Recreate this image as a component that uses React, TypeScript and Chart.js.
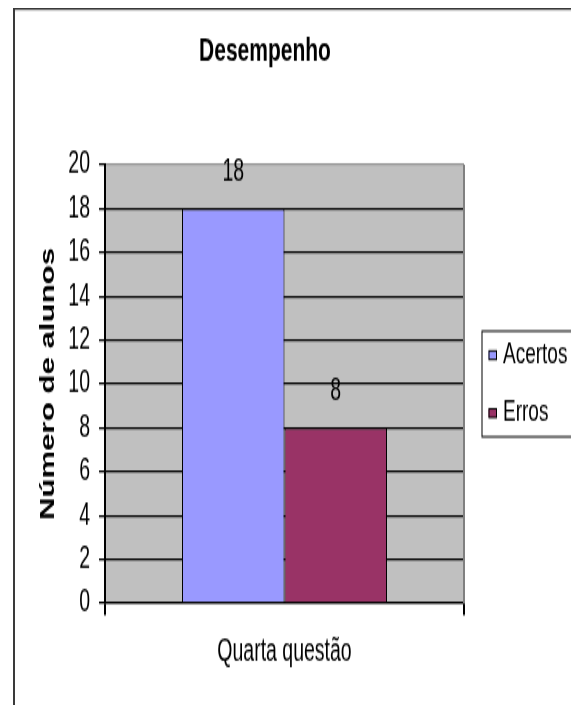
import { useEffect, useRef } from "react";
import { Chart, registerables } from "chart.js";

Chart.register(...registerables);

// Chart data
const categories = ["Quarta questão"];
const seriesNames = ["Acertos", "Erros"];
const acertos = [18];
const erros = [8];
const seriesColors = ["#9999ff", "#993366"];
const yTickValues = [0, 2, 4, 6, 8, 10, 12, 14, 16, 18, 20];
const chartTitle = "Desempenho";
const yAxisTitle = "Número de alunos";

// Drawing surface: the chart is laid out on a short canvas and stretched vertically.
const W = 571;
const H = 436;
const STRETCH = 1.6;
const FONT = "'Liberation Sans', Arial, sans-serif";

const backdrop = {
  id: "backdrop",
  beforeDraw(chart: any) {
    const { ctx, chartArea: a } = chart;
    ctx.save();
    ctx.fillStyle = "#ffffff";
    ctx.fillRect(0, 0, chart.width, chart.height);
    // outer frame (top and left edges)
    ctx.strokeStyle = "#3a3a3a";
    ctx.lineWidth = 2;
    ctx.beginPath();
    ctx.moveTo(6, 0);
    ctx.lineTo(6, chart.height);
    ctx.stroke();
    ctx.lineWidth = 1.2;
    ctx.beginPath();
    ctx.moveTo(5, 0.6);
    ctx.lineTo(chart.width, 0.6);
    ctx.stroke();
    // plot area fill
    ctx.fillStyle = "#c0c0c0";
    ctx.fillRect(a.left, a.top, a.right - a.left, a.bottom - a.top);
    ctx.restore();
  },
};

const plotBorder = {
  id: "plotBorder",
  afterDatasetsDraw(chart: any) {
    const { ctx, chartArea: a } = chart;
    ctx.save();
    ctx.strokeStyle = "#808080";
    ctx.lineWidth = 2;
    ctx.beginPath();
    ctx.moveTo(a.right, a.top);
    ctx.lineTo(a.right, a.bottom);
    ctx.stroke();
    ctx.restore();
  },
};

const valueLabels = {
  id: "valueLabels",
  afterDatasetsDraw(chart: any) {
    const { ctx } = chart;
    ctx.save();
    ctx.fillStyle = "#000000";
    ctx.font = `19.5px ${FONT}`;
    ctx.textAlign = "center";
    ctx.textBaseline = "middle";
    chart.data.datasets.forEach((ds: any, i: number) => {
      const meta = chart.getDatasetMeta(i);
      meta.data.forEach((bar: any, j: number) => {
        ctx.fillText(String(ds.data[j]), bar.x, bar.y - 22.4);
      });
    });
    ctx.restore();
  },
};

const titleText = {
  id: "titleText",
  afterDraw(chart: any) {
    const { ctx } = chart;
    ctx.save();
    ctx.fillStyle = "#000000";
    ctx.font = `bold 21px ${FONT}`;
    ctx.textAlign = "center";
    ctx.textBaseline = "middle";
    ctx.fillText(chartTitle, 257, 27.5);
    ctx.restore();
  },
};

const legendBox = {
  id: "legendBox",
  afterDraw(chart: any) {
    const { ctx, chartArea: a } = chart;
    const cy = (a.top + a.bottom) / 2;
    const x0 = 473.5;
    const x1 = 569;
    const h = 66;
    const top = cy - h / 2;
    ctx.save();
    ctx.strokeStyle = "#000000";
    ctx.lineWidth = 1;
    ctx.strokeRect(x0 + 0.5, top, x1 - x0, h);
    ctx.font = `19px ${FONT}`;
    ctx.textAlign = "left";
    ctx.textBaseline = "middle";
    chart.data.datasets.forEach((ds: any, i: number) => {
      const y = top + 15 + i * 36.25;
      ctx.fillStyle = ds.backgroundColor;
      ctx.fillRect(x0 + 7, y - 2.7, 8, 5.4);
      ctx.strokeRect(x0 + 7.5, y - 2.7, 7.5, 5.4);
      ctx.fillStyle = "#000000";
      ctx.fillText(ds.label, x0 + 21.5, y);
    });
    ctx.restore();
  },
};

export default function App() {
  const canvasRef = useRef<HTMLCanvasElement>(null);

  useEffect(() => {
    const canvas = canvasRef.current;
    if (!canvas) return;
    const chart = new Chart(canvas, {
      type: "bar",
      data: {
        labels: categories,
        datasets: [
          {
            label: seriesNames[0],
            data: acertos,
            backgroundColor: seriesColors[0],
            borderColor: "#000000",
            borderWidth: 1,
            categoryPercentage: 0.571,
            barPercentage: 1,
          },
          {
            label: seriesNames[1],
            data: erros,
            backgroundColor: seriesColors[1],
            borderColor: "#000000",
            borderWidth: 1,
            categoryPercentage: 0.571,
            barPercentage: 1,
          },
        ],
      },
      options: {
        animation: false,
        responsive: false,
        devicePixelRatio: 1,
        layout: { padding: { top: 98, right: 115, bottom: 10.5, left: 0 } },
        plugins: {
          legend: { display: false },
          title: { display: false },
          tooltip: { enabled: false },
        },
        scales: {
          x: {
            type: "category",
            offset: true,
            grid: {
              display: true,
              offset: true,
              drawOnChartArea: false,
              drawTicks: true,
              tickLength: 7.5,
              color: "#000000",
              lineWidth: 2,
            },
            border: { display: true, color: "#000000", width: 1.3 },
            ticks: {
              color: "#000000",
              font: { family: FONT, size: 19.5 },
              padding: 11.3,
            },
          },
          y: {
            min: 0,
            max: 20,
            afterBuildTicks(scale: any) {
              scale.ticks = yTickValues.map((v) => ({ value: v }));
            },
            afterFit(scale: any) {
              scale.width = 97;
            },
            grid: {
              color: (c: any) => (c.tick && c.tick.value === 20 ? "#959595" : "#000000"),
              tickColor: "#000000",
              lineWidth: 1.3,
              tickLength: 6,
              drawTicks: true,
            },
            border: { display: true, color: "#000000", width: 2 },
            ticks: {
              autoSkip: false,
              color: "#000000",
              font: { family: FONT, size: 19.5 },
              padding: 9,
            },
            title: {
              display: true,
              text: yAxisTitle,
              color: "#000000",
              font: { family: FONT, size: 19.5, weight: "bold" },
              padding: { top: 28.8, bottom: 0 },
            },
          },
        },
      },
      plugins: [backdrop, plotBorder, valueLabels, titleText, legendBox],
    } as any);
    return () => chart.destroy();
  }, []);

  return (
    <div style={{ width: W, height: 697, overflow: "hidden" }}>
      <div
        style={{
          width: W,
          height: H,
          transform: `scaleY(${STRETCH})`,
          transformOrigin: "0 0",
        }}
      >
        <canvas ref={canvasRef} width={W} height={H} style={{ display: "block" }} />
      </div>
    </div>
  );
}
